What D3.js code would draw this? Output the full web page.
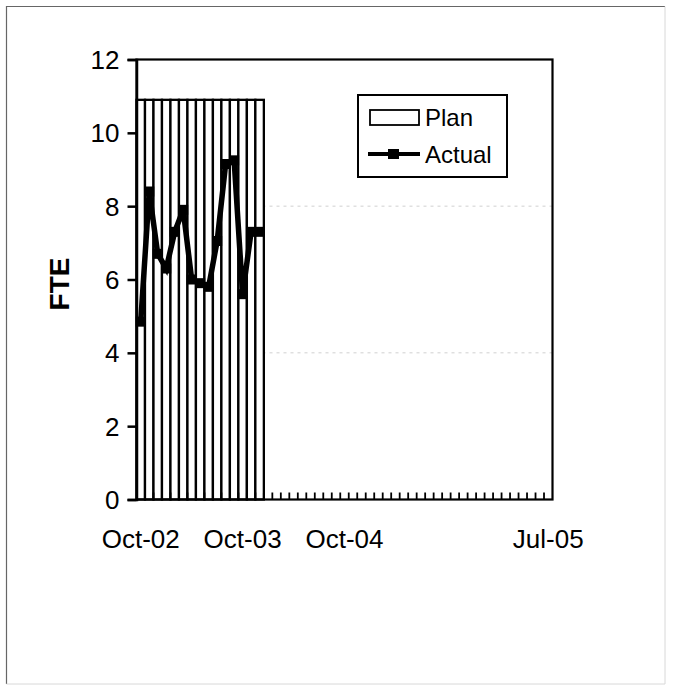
<!DOCTYPE html>
<html lang="en">
<head>
  <meta charset="UTF-8">
  <title>FTE Plan vs Actual</title>
  <script src="https://d3js.org/d3.v7.min.js"></script>
  <style>
    body {
      margin: 0;
      background: #fff;
      font-family: 'Liberation Sans', Arial, sans-serif;
    }
    svg { display: block; }
    .tick-label { font-size: 26px; fill: #000; }
    .legend text { font-size: 24px; fill: #000; }
  </style>
</head>
<body>
<svg id="chart" width="681" height="699"></svg>

<script>
// 49 categories along the x axis, labelled only at a few of them
const categories = d3.range(49);
const xTickLabels = [
  {i: 0, label: "Oct-02"},
  {i: 12, label: "Oct-03"},
  {i: 24, label: "Oct-04"},
  {i: 48, label: "Jul-05"}
];
const yTicks = [0, 2, 4, 6, 8, 10, 12];

// Plan (bars) and Actual (line)
const plan = [
  10.9, 10.9, 10.9, 10.9, 10.9, 10.9, 10.9, 10.9, 10.9, 10.9, 10.9, 10.9, 10.9, 10.9, 10.9,
  0, 0, 0, 0, 0, 0, 0, 0, 0, 0, 0, 0, 0, 0, 0, 0, 0,
  0, 0, 0, 0, 0, 0, 0, 0, 0, 0, 0, 0, 0, 0, 0, 0, 0
];
const actual = [4.85, 8.4, 6.7, 6.3, 7.3, 7.9, 6.0, 5.9, 5.8, 7.05, 9.15, 9.25, 5.6, 7.3, 7.3];

const svg = d3.select("#chart");
const plot = {left: 136.5, right: 552.5, top: 59.5, bottom: 499.5};

// page frame
svg.append("path")
  .attr("d", `M665,6.5 L6.5,6.5 L6.5,684`)
  .attr("fill", "none").attr("stroke", "#666").attr("stroke-width", 1.2);
svg.append("path")
  .attr("d", `M6.5,684 L665,684 L665,6.5`)
  .attr("fill", "none").attr("stroke", "#d8d8d8").attr("stroke-width", 1);

const x = d3.scaleBand().domain(categories).range([plot.left, plot.right]).padding(0);
const y = d3.scaleLinear().domain([0, 12]).range([plot.bottom, plot.top]);

// faint gridlines (show through only where there are no bars)
[4, 8].forEach(v => {
  svg.append("line")
    .attr("x1", plot.left).attr("x2", plot.right)
    .attr("y1", y(v)).attr("y2", y(v))
    .attr("stroke", "#d0d0d0").attr("stroke-width", 1)
    .attr("stroke-dasharray", "3,4");
});

// Plan bars
svg.append("g")
  .selectAll("rect")
  .data(plan)
  .join("rect")
    .attr("x", (d, i) => x(i))
    .attr("y", d => y(d))
    .attr("width", x.bandwidth())
    .attr("height", d => y(0) - y(d))
    .attr("fill", "#fff")
    .attr("stroke", "#000")
    .attr("stroke-width", 2.3);

// x category ticks (pointing inward)
svg.append("g")
  .selectAll("line")
  .data(categories.slice(1))
  .join("line")
    .attr("x1", d => x(d)).attr("x2", d => x(d))
    .attr("y1", plot.bottom).attr("y2", plot.bottom - 7)
    .attr("stroke", "#000").attr("stroke-width", 1.8);

// plot area border
svg.append("rect")
  .attr("x", plot.left).attr("y", plot.top)
  .attr("width", plot.right - plot.left).attr("height", plot.bottom - plot.top)
  .attr("fill", "none").attr("stroke", "#000").attr("stroke-width", 2.2);

// y axis
const yAxis = svg.append("g")
  .attr("transform", `translate(${plot.left},0)`)
  .call(d3.axisLeft(y).tickValues(yTicks).tickSize(9).tickPadding(8));
yAxis.select(".domain").attr("stroke-width", 2.5);
yAxis.selectAll(".tick line").attr("stroke-width", 2.5);
yAxis.selectAll(".tick text")
  .attr("class", "tick-label")
  .attr("dy", "0.35em");
yAxis.attr("font-family", null).attr("font-size", null);

// x tick labels
svg.append("g")
  .selectAll("text")
  .data(xTickLabels)
  .join("text")
    .attr("class", "tick-label")
    .attr("x", d => x(d.i) + x.bandwidth() / 2)
    .attr("y", 548)
    .attr("text-anchor", "middle")
    .text(d => d.label);

// y axis title
svg.append("text")
  .attr("transform", "translate(69,284) rotate(-90)")
  .attr("text-anchor", "middle")
  .attr("font-size", 28)
  .attr("font-weight", "bold")
  .attr("fill", "#000")
  .text("FTE");

// Actual line
const line = d3.line()
  .x((d, i) => x(i) + x.bandwidth() / 2)
  .y(d => y(d));

svg.append("path")
  .datum(actual)
  .attr("d", line)
  .attr("fill", "none")
  .attr("stroke", "#000")
  .attr("stroke-width", 5.5)
  .attr("stroke-linejoin", "miter");

svg.append("g")
  .selectAll("rect")
  .data(actual)
  .join("rect")
    .attr("x", (d, i) => x(i) + x.bandwidth() / 2 - 5)
    .attr("y", d => y(d) - 5)
    .attr("width", 10).attr("height", 10)
    .attr("fill", "#000");

// legend
const legend = svg.append("g").attr("class", "legend");
legend.append("rect")
  .attr("x", 358).attr("y", 95).attr("width", 149).attr("height", 82)
  .attr("fill", "#fff").attr("stroke", "#000").attr("stroke-width", 2);
legend.append("rect")
  .attr("x", 370).attr("y", 110).attr("width", 49).attr("height", 15)
  .attr("fill", "#fff").attr("stroke", "#000").attr("stroke-width", 1.8);
legend.append("text").attr("x", 425).attr("y", 126).text("Plan");
legend.append("line")
  .attr("x1", 368).attr("x2", 420).attr("y1", 154).attr("y2", 154)
  .attr("stroke", "#000").attr("stroke-width", 4);
legend.append("rect")
  .attr("x", 388).attr("y", 149).attr("width", 11).attr("height", 10)
  .attr("fill", "#000");
legend.append("text").attr("x", 425).attr("y", 163).text("Actual");
</script>
</body>
</html>
